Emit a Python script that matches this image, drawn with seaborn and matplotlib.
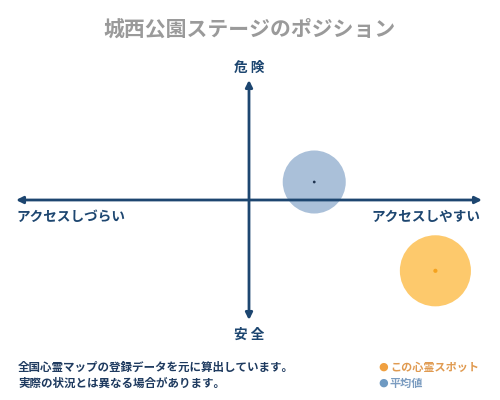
import matplotlib
matplotlib.use("Agg")
import matplotlib.pyplot as plt
import seaborn as sns
import pandas as pd

# ---- data ----
title = "城西公園ステージのポジション"
labels_axis = {"top": "危 険", "bottom": "安 全", "left": "アクセスしづらい", "right": "アクセスしやすい"}
kinds = ["平均値", "この心霊スポット"]
x_vals = [0.28, 0.80]      # access (negative = hard, positive = easy)
y_vals = [0.15, -0.59]     # danger (positive = dangerous)
circle_sizes = [2060, 2620]
footer_lines = ["全国心霊マップの登録データを元に算出しています。",
                "実際の状況とは異なる場合があります。"]
legend_labels = ["この心霊スポット", "平均値"]

sns.set_theme(style="white")
plt.rcParams["font.family"] = ["Noto Sans CJK JP", "DejaVu Sans"]

df = pd.DataFrame({"x": x_vals, "y": y_vals, "kind": kinds, "sz": circle_sizes})

fig = plt.figure(figsize=(5, 4), dpi=100)
ax = fig.add_axes([0, 0, 1, 1])
ax.set_xlim(-249 / 233, 251 / 233)
ax.set_ylim(-200 / 120, 200 / 120)
ax.axis("off")

navy = "#1d4670"
# axes arrows
arrow_kw = dict(arrowstyle="-|>", color=navy, lw=2.0, mutation_scale=10, shrinkA=0, shrinkB=0)
ax.annotate("", xy=(1.0, 0), xytext=(0, 0), arrowprops=arrow_kw)
ax.annotate("", xy=(-1.0, 0), xytext=(0, 0), arrowprops=arrow_kw)
ax.annotate("", xy=(0, 1.0), xytext=(0, 0), arrowprops=arrow_kw)
ax.annotate("", xy=(0, -1.0), xytext=(0, 0), arrowprops=arrow_kw)

palette = {"平均値": "#aac0d9", "この心霊スポット": "#fdc96c"}
sns.scatterplot(data=df, x="x", y="y", hue="kind", palette=palette,
                size="kind", sizes={k: s for k, s in zip(kinds, circle_sizes)},
                alpha=1.0, edgecolor="none", legend=False, ax=ax, zorder=1)
center_cols = {"平均値": "#1f3350", "この心霊スポット": "#f5a21e"}
sns.scatterplot(data=df, x="x", y="y", hue="kind", palette=center_cols,
                s=[4, 9], edgecolor="none", legend=False, ax=ax, zorder=3)

# axis labels
lab_kw = dict(color=navy, fontsize=9.8, fontweight="bold")
ax.text(0, 1.10, labels_axis["top"], ha="center", va="center", **lab_kw)
ax.text(0, -1.12, labels_axis["bottom"], ha="center", va="center", **lab_kw)
ax.text(-1.0, -0.14, labels_axis["left"], ha="left", va="center", **lab_kw)
ax.text(0.995, -0.14, labels_axis["right"], ha="right", va="center", **lab_kw)

# title
fig.text(0.5, 1 - 29 / 400, title, ha="center", va="center", fontsize=15,
         color="#9a9a9a", fontweight="bold")

# footer
for i, line in enumerate(footer_lines):
    fig.text(18 / 500, 1 - (367 + 16 * i) / 400, line, ha="left", va="center",
             fontsize=8.3, color="#1e3a5f", fontweight="bold")

leg_dot = ["#f0a040", "#6f9ac2"]
leg_txt = ["#e09a50", "#7b9cc0"]
for i, (lab, dc, tc) in enumerate(zip(legend_labels, leg_dot, leg_txt)):
    yy = 1 - (367 + 16 * i) / 400
    fig.text(383 / 500, yy, "●", ha="center", va="center", fontsize=8, color=dc,
             family=["DejaVu Sans"])
    fig.text(390 / 500, yy, lab, ha="left", va="center", fontsize=8, color=tc,
             fontweight="bold")

fig.savefig("out.png", dpi=100, facecolor="white")
